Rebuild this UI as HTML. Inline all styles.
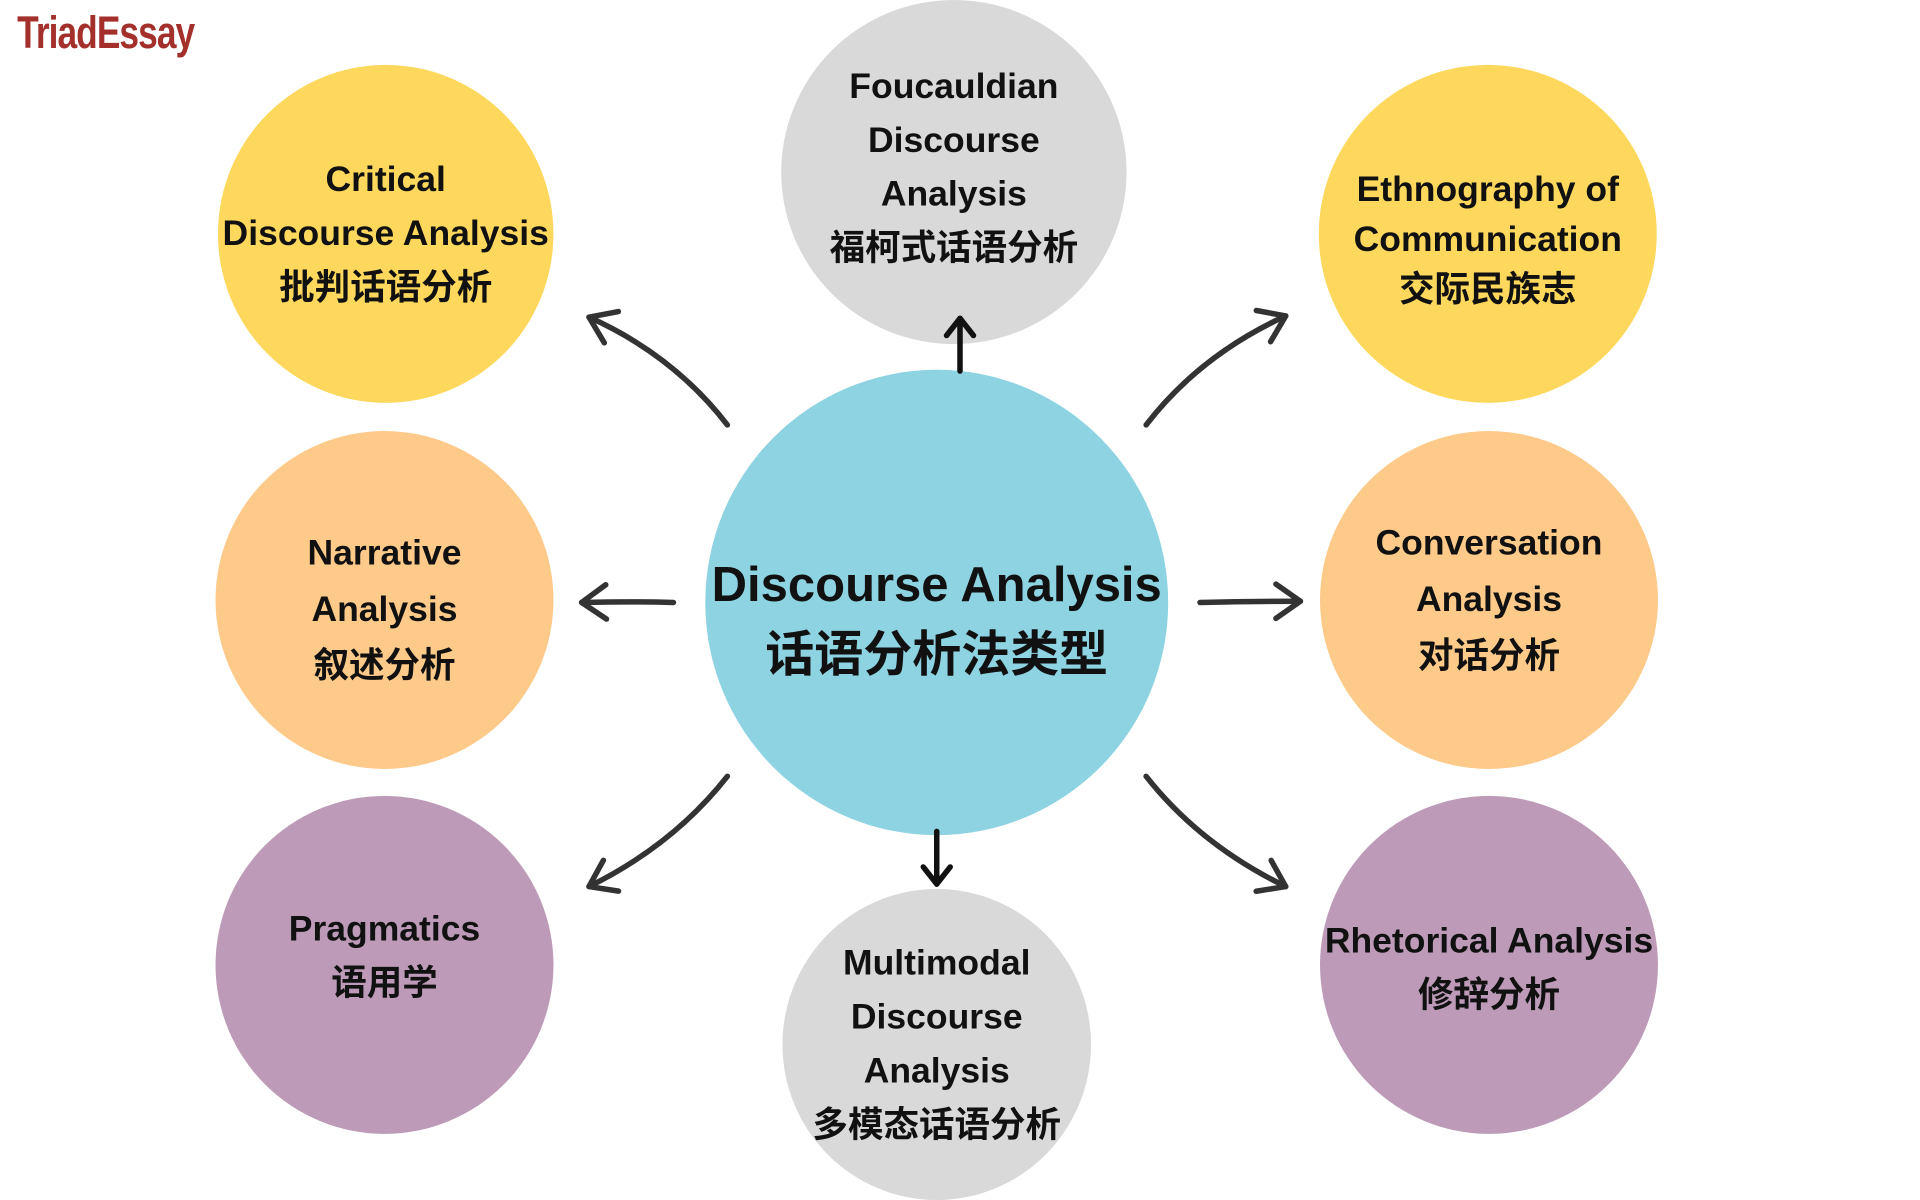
<!DOCTYPE html>
<html><head><meta charset="utf-8"><style>
html,body{margin:0;padding:0;background:#fff;width:1920px;height:1200px;overflow:hidden}
#s{position:absolute;left:0;top:0;width:1568px;height:980px;transform:scale(1.2245);transform-origin:0 0}
.c{position:absolute;border-radius:50%;display:flex;align-items:center;justify-content:center;text-align:center;font-family:"Liberation Sans","Noto Sans CJK SC",sans-serif;font-weight:bold;font-size:29px;line-height:44px;color:#111;white-space:nowrap}
.y{background:#fdd85d}.g{background:#d9d9d9}.o{background:#fdca8a}.p{background:#bd9ab8}
</style></head><body><div id="s">
<div style="position:absolute;left:14px;top:6px;font-family:'Liberation Sans',sans-serif;font-weight:bold;font-size:37px;color:#a3302b;letter-spacing:-1px;transform:scaleX(0.78);transform-origin:0 0">TriadEssay</div>
<div class="c y" style="left:178px;top:53px;width:274px;height:276px">Critical<br>Discourse Analysis<br>批判话语分析</div>
<div class="c g" style="left:638px;top:0px;width:282px;height:281px"><div style="margin-top:-8px">Foucauldian<br>Discourse<br>Analysis<br>福柯式话语分析</div></div>
<div class="c y" style="left:1077px;top:53px;width:276px;height:276px;line-height:41px"><div style="margin-top:10px">Ethnography of<br>Communication<br>交际民族志</div></div>
<div class="c o" style="left:176px;top:352px;width:276px;height:276px;line-height:46px"><div style="margin-top:16px">Narrative<br>Analysis<br>叙述分析</div></div>
<div class="c" style="left:576px;top:302px;width:378px;height:380px;background:#8dd3e2;font-size:40px;line-height:57px"><div style="margin-top:30px">Discourse Analysis<br>话语分析法类型</div></div>
<div class="c o" style="left:1078px;top:352px;width:276px;height:276px;line-height:46px">Conversation<br>Analysis<br>对话分析</div>
<div class="c p" style="left:176px;top:650px;width:276px;height:276px"><div style="margin-top:-14px">Pragmatics<br>语用学</div></div>
<div class="c p" style="left:1078px;top:650px;width:276px;height:276px"><div style="margin-top:6px">Rhetorical Analysis<br>修辞分析</div></div>
<div class="c g" style="left:639px;top:726px;width:252px;height:254px">Multimodal<br>Discourse<br>Analysis<br>多模态话语分析</div>
<svg style="position:absolute;left:0;top:0" width="1568" height="980">
<defs><marker id="a" viewBox="0 0 40 40" refX="34" refY="20" markerWidth="40" markerHeight="40" orient="auto" markerUnits="userSpaceOnUse"><path d="M14 6 L34 20 L14 34" fill="none" stroke="#333" stroke-width="4.5" stroke-linecap="round" stroke-linejoin="round"/></marker>
<marker id="b" viewBox="0 0 40 40" refX="34" refY="20" markerWidth="40" markerHeight="40" orient="auto" markerUnits="userSpaceOnUse"><path d="M20 9 L34 20 L20 31" fill="none" stroke="#111" stroke-width="4.5" stroke-linecap="round" stroke-linejoin="round"/></marker></defs>
<g fill="none" stroke="#333" stroke-width="4.5" stroke-linecap="round" marker-end="url(#a)">
<path d="M784 303 L784 260" stroke="#111" marker-end="url(#b)"/>
<path d="M594 347 Q550 290 481 259"/>
<path d="M936 347 Q980 290 1050 258"/>
<path d="M550 492 Q520 491 475 492"/>
<path d="M980 492 Q1020 491 1062 491"/>
<path d="M594 634 Q550 690 481 724"/>
<path d="M765 679 L765 722" stroke="#111" marker-end="url(#b)"/>
<path d="M936 634 Q980 690 1050 724"/>
</g></svg>
</div></body></html>
